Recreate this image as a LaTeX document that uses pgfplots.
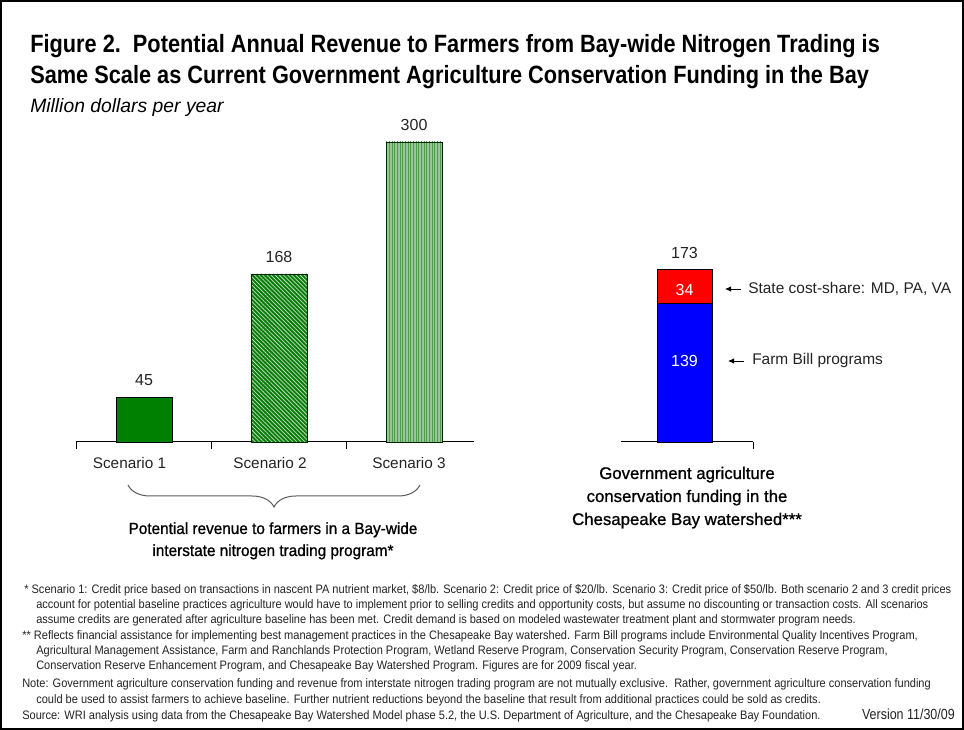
\documentclass[border=0pt]{standalone}
\usepackage{pgfplots}
\pgfplotsset{compat=1.18}
\usepackage{fontspec}
\setmainfont{Liberation Sans}
\newfontfamily\titlefont[FakeStretch=0.87]{Liberation Sans}
\newfontfamily\subfont[FakeStretch=1.0]{Liberation Sans}
\newfontfamily\narrowfont[FakeStretch=0.85]{Liberation Sans}
\newfontfamily\footfont[FakeStretch=0.90]{Liberation Sans}
\newfontfamily\grpfont[FakeBold=1]{Liberation Sans}
\newfontfamily\grpfontL[FakeBold=1,FakeStretch=0.95]{Liberation Sans}
\usetikzlibrary{patterns.meta,decorations.pathreplacing,arrows.meta}

\definecolor{gA}{RGB}{0,128,0}
\definecolor{gB}{RGB}{10,125,10}
\definecolor{gC}{RGB}{150,200,150}
\definecolor{gCl}{RGB}{80,155,80}
\definecolor{blueB}{RGB}{0,0,255}
\definecolor{redB}{RGB}{255,0,0}
\definecolor{braceC}{RGB}{90,90,90}
\definecolor{txt}{RGB}{35,35,35}

\begin{document}
\begin{tikzpicture}[x=0.75pt,y=0.75pt]
\path[use as bounding box] (0,0) rectangle (964,730);
\draw[line width=1.5pt] (1,1) rectangle (963,729);

% left axis: trading scenarios
\begin{axis}[
  at={(57pt,216pt)}, anchor=south west, scale only axis,
  width=298.5pt, height=225pt,
  xmin=-0.504, xmax=2.444, ymin=0, ymax=300,
  axis x line=bottom, axis y line=none,
  axis line style={-, black, line width=0.75pt},
  xtick={-0.5,0.5,1.5}, xticklabel=\empty,
  xtick align=outside, major tick length=5.25pt,
  tick style={black, line width=0.75pt},
  ybar, bar width=0.415, bar shift=0pt,
  clip=false,
  nodes near coords, point meta=y,
  /pgf/number format/assume math mode=true,
  every node near coord/.append style={font=\fontsize{12pt}{14pt}\selectfont, text=txt, yshift=4.5pt},
]
\addplot[draw=black, line width=0.6pt, fill=gA] coordinates {(0,45)};
\addplot[draw=black!70!gA, line width=0.6pt, fill=gB,
  postaction={pattern={Lines[angle=-45,distance=2.2pt,line width=0.55pt]}, pattern color=white!75!gA}] coordinates {(1,168)};
\addplot[draw=black!70!gA, line width=0.6pt, fill=gC,
  postaction={pattern={Lines[angle=90,distance=2pt,line width=0.5pt]}, pattern color=gCl}] coordinates {(2,300)};
\end{axis}

% right axis: government funding
\begin{axis}[
  at={(465.75pt,216pt)}, anchor=south west, scale only axis,
  width=99pt, height=225pt,
  xmin=-1.155, xmax=1.245, ymin=0, ymax=300,
  axis x line=bottom, axis y line=none,
  axis line style={-, black, line width=0.75pt},
  xtick={1.245}, xticklabel=\empty,
  xtick align=outside, major tick length=5.25pt,
  tick style={black, line width=0.75pt},
  ybar stacked, bar width=1,
  clip=false,
]
\addplot[draw=black, line width=0.6pt, fill=blueB] coordinates {(0,139)};
\addplot[draw=black, line width=0.6pt, fill=redB] coordinates {(0,34)};
\node[anchor=south, text=txt, yshift=4.5pt, font=\fontsize{12pt}{14pt}\selectfont] at (axis cs:0,173) {173};
\end{axis}

% segment values inside the stacked bar
\node[text=white, font=\fontsize{12pt}{14pt}\selectfont] at (684.5,440) {34};
\node[text=white, font=\fontsize{12pt}{14pt}\selectfont] at (684.5,369) {139};

% titles
\node[anchor=base west, inner sep=0, font=\titlefont\bfseries\fontsize{18.75pt}{21pt}\selectfont] at (30,677)
  {Figure 2.\ \ Potential Annual Revenue to Farmers from Bay-wide Nitrogen Trading is};
\node[anchor=base west, inner sep=0, font=\titlefont\bfseries\fontsize{18.75pt}{21pt}\selectfont] at (30,646)
  {Same Scale as Current Government Agriculture Conservation Funding in the Bay};
\node[anchor=base west, inner sep=0, font=\subfont\itshape\fontsize{14.5pt}{16pt}\selectfont] at (30,617)
  {Million dollars per year};

% category labels
\foreach \xx/\lab in {129.5/Scenario 1, 270/Scenario 2, 409/Scenario 3}
  \node[anchor=base, inner sep=0, text=txt, font=\fontsize{11.5pt}{13pt}\selectfont] at (\xx,261) {\lab};

% brace
\draw[braceC, line width=0.75pt, decorate, decoration={brace, mirror, amplitude=16.5pt}] (128,245) -- (420,245);

% group labels
\node[anchor=base, inner sep=0, font=\grpfontL\fontsize{12.1pt}{14pt}\selectfont] at (273,196) {Potential revenue to farmers in a Bay-wide};
\node[anchor=base, inner sep=0, font=\grpfontL\fontsize{12.1pt}{14pt}\selectfont] at (273,174) {interstate nitrogen trading program*};
\node[anchor=base, inner sep=0, font=\grpfont\fontsize{12.6pt}{14pt}\selectfont] at (687,251) {Government agriculture};
\node[anchor=base, inner sep=0, font=\grpfont\fontsize{12.6pt}{14pt}\selectfont] at (687,228) {conservation funding in the};
\node[anchor=base, inner sep=0, font=\grpfont\fontsize{12.6pt}{14pt}\selectfont] at (687,205) {Chesapeake Bay watershed***};

% annotations
\draw[-{Latex[length=4.5pt,width=4pt]}, line width=0.6pt] (741,441) -- (725,441);
\node[anchor=west, inner sep=0, text=txt, font=\fontsize{11.6pt}{13pt}\selectfont] at (748,441) {State cost-share: MD, PA, VA};
\draw[-{Latex[length=4.5pt,width=4pt]}, line width=0.6pt] (744,369) -- (728,369);
\node[anchor=west, inner sep=0, text=txt, font=\fontsize{11.6pt}{13pt}\selectfont] at (752,369) {Farm Bill programs};

% footnotes
\begin{scope}[every node/.style={anchor=base west, inner sep=0, text=txt, font=\footfont\fontsize{9.2pt}{10pt}\selectfont}]
\node at (24,136) {* Scenario 1: Credit price based on transactions in nascent PA nutrient market, \$8/lb. Scenario 2: Credit price of \$20/lb. Scenario 3: Credit price of \$50/lb. Both scenario 2 and 3 credit prices};
\node at (36,121) {account for potential baseline practices agriculture would have to implement prior to selling credits and opportunity costs, but assume no discounting or transaction costs. All scenarios};
\node at (36,106) {assume credits are generated after agriculture baseline has been met. Credit demand is based on modeled wastewater treatment plant and stormwater program needs.};
\node at (22,90) {** Reflects financial assistance for implementing best management practices in the Chesapeake Bay watershed. Farm Bill programs include Environmental Quality Incentives Program,};
\node at (36,75) {Agricultural Management Assistance, Farm and Ranchlands Protection Program, Wetland Reserve Program, Conservation Security Program, Conservation Reserve Program,};
\node at (36,60) {Conservation Reserve Enhancement Program, and Chesapeake Bay Watershed Program. Figures are for 2009 fiscal year.};
\node at (22,42) {Note: Government agriculture conservation funding and revenue from interstate nitrogen trading program are not mutually exclusive.\ \ Rather, government agriculture conservation funding};
\node at (36,26) {could be used to assist farmers to achieve baseline. Further nutrient reductions beyond the baseline that result from additional practices could be sold as credits.};
\node at (22,10) {Source: WRI analysis using data from the Chesapeake Bay Watershed Model phase 5.2, the U.S. Department of Agriculture, and the Chesapeake Bay Foundation.};
\end{scope}
\node[anchor=base east, inner sep=0, text=txt, font=\narrowfont\fontsize{11pt}{12pt}\selectfont] at (955,10) {Version 11/30/09};
\end{tikzpicture}
\end{document}
